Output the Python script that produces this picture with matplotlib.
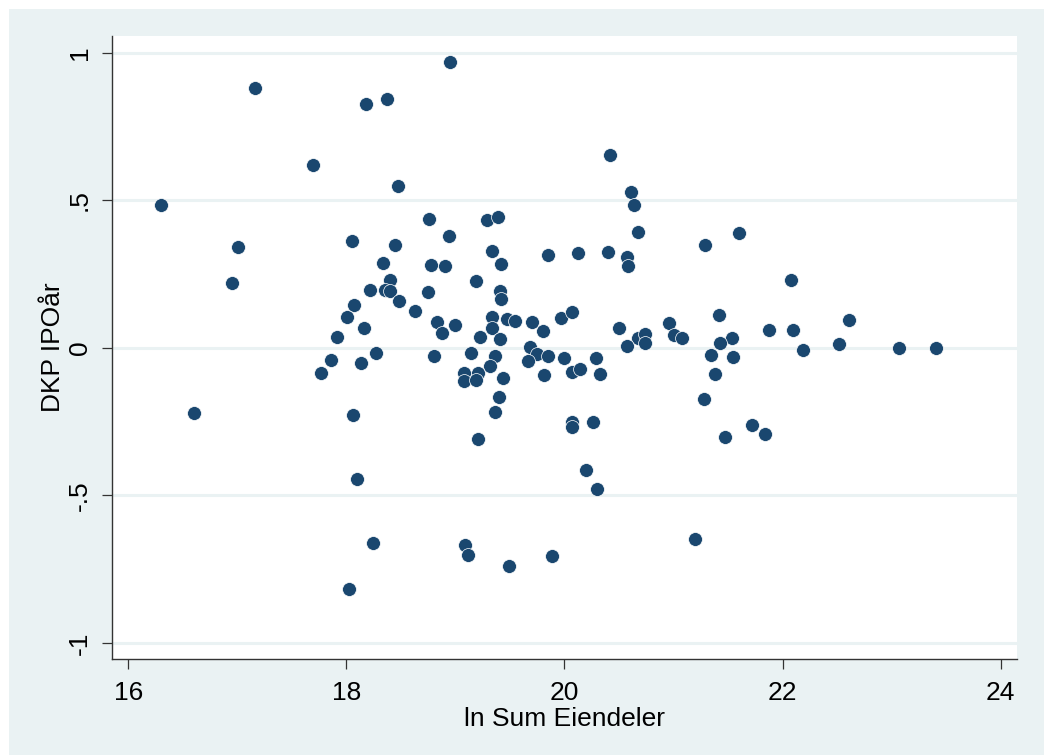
import matplotlib
matplotlib.use("Agg")
import matplotlib.pyplot as plt
from matplotlib.patches import Rectangle

# ln total assets vs. IPO-year value
ln_sum_eiendeler = [
    16.30, 17.16, 18.18, 18.37, 18.95, 17.69, 18.47, 17.01, 16.95, 18.76,
    19.29, 19.39, 18.05, 18.94, 18.45, 19.34, 19.85, 18.34, 18.78, 18.90,
    19.42, 19.19, 18.40, 18.22, 18.35, 18.40, 18.75, 19.41, 19.42, 18.48,
    18.07, 18.63, 18.01, 18.16, 18.83, 19.00, 18.88, 17.91, 19.23, 19.34,
    19.34, 19.47, 19.55, 19.70, 19.80, 19.97, 20.07, 19.41, 19.68, 17.86,
    17.77, 18.13, 18.27, 18.80, 19.14, 19.36, 19.32, 19.08, 19.21, 19.08,
    19.19, 19.44, 19.40, 19.36, 19.21, 19.75, 19.85, 19.67, 19.81, 20.00,
    20.07, 20.14, 16.60, 18.06, 18.10, 18.24, 18.02, 19.09, 19.12, 19.49,
    19.89, 20.07, 20.07, 20.42, 20.61, 20.64, 20.67, 20.12, 20.40, 20.57,
    20.58, 21.29, 21.60, 22.08, 20.50, 20.96, 21.00, 21.08, 21.42, 21.54,
    21.43, 21.88, 22.10, 22.61, 22.52, 22.19, 23.07, 23.41, 20.67, 20.74,
    20.74, 20.57, 20.29, 20.33, 20.26, 20.20, 20.30, 21.34, 21.55, 21.38,
    21.28, 21.72, 21.84, 21.47, 21.20,
]
dkp_ipoar = [
    0.485, 0.882, 0.827, 0.842, 0.969, 0.619, 0.549, 0.341, 0.220, 0.437,
    0.434, 0.443, 0.362, 0.379, 0.349, 0.328, 0.313, 0.288, 0.281, 0.279,
    0.284, 0.228, 0.231, 0.197, 0.197, 0.194, 0.190, 0.193, 0.165, 0.160,
    0.145, 0.126, 0.105, 0.067, 0.087, 0.078, 0.051, 0.037, 0.037, 0.104,
    0.069, 0.099, 0.090, 0.087, 0.058, 0.102, 0.120, 0.029, 0.003, -0.040,
    -0.086, -0.052, -0.018, -0.028, -0.016, -0.026, -0.060, -0.084, -0.086, -0.112,
    -0.108, -0.101, -0.165, -0.217, -0.308, -0.020, -0.028, -0.043, -0.092, -0.033,
    -0.082, -0.072, -0.219, -0.226, -0.445, -0.661, -0.817, -0.667, -0.703, -0.739,
    -0.706, -0.250, -0.269, 0.655, 0.529, 0.484, 0.391, 0.320, 0.324, 0.307,
    0.279, 0.348, 0.390, 0.231, 0.069, 0.085, 0.044, 0.033, 0.110, 0.035,
    0.015, 0.059, 0.061, 0.093, 0.014, -0.006, -0.001, -0.001, 0.032, 0.048,
    0.016, 0.006, -0.033, -0.088, -0.252, -0.414, -0.479, -0.024, -0.031, -0.088,
    -0.173, -0.260, -0.293, -0.301, -0.647,
]

x_ticks = [16, 18, 20, 22, 24]
y_ticks = [-1, -0.5, 0, 0.5, 1]
y_ticklabels = ["-1", "-.5", "0", ".5", "1"]

plt.rcParams['font.family'] = ['Liberation Sans', 'DejaVu Sans']

bg = '#EAF2F3'
navy = '#1A476F'

fig = plt.figure(figsize=(10.44, 7.55), dpi=100)
fig.patch.set_facecolor('white')
# graph region: light bluish grey, leaving a thin white margin top and left
fig.patches.append(Rectangle((9 / 1044, 0), 1, 1 - 9 / 755, transform=fig.transFigure,
                             facecolor=bg, edgecolor='none', zorder=-5))

ax = fig.add_axes([111.7 / 1044, 1 - 659 / 755, (1017 - 111.7) / 1044, (659 - 36) / 755])
ax.set_facecolor('white')

ax.scatter(ln_sum_eiendeler, dkp_ipoar, s=100, color=navy, edgecolors='white',
           linewidths=0.5, zorder=3)

ax.set_xlim(15.848, 24.15)
ax.set_ylim(-1.054, 1.0566)
ax.set_xticks(x_ticks)
ax.set_yticks(y_ticks)
ax.set_yticklabels(y_ticklabels, rotation=90, va='center')

ax.grid(axis='y', color=bg, linewidth=2.2, zorder=1)
ax.set_axisbelow(True)
for side in ['top', 'right']:
    ax.spines[side].set_visible(False)
for side in ['left', 'bottom']:
    ax.spines[side].set_color('#333333')
    ax.spines[side].set_linewidth(1)

ax.tick_params(axis='both', length=7.5, width=0.9, color='#333333', labelsize=19)
ax.tick_params(axis='x', pad=8)
ax.tick_params(axis='y', pad=7)

ax.set_xlabel('ln Sum Eiendeler', fontsize=19, labelpad=2)
ax.set_ylabel('DKP IPOår', fontsize=19, labelpad=2)

fig.savefig('out.png', dpi=100, facecolor=fig.get_facecolor())
